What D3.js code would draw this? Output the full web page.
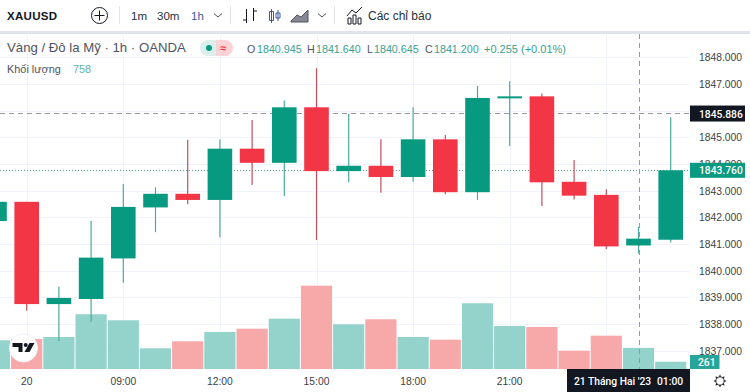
<!DOCTYPE html>
<html>
<head>
<meta charset="utf-8">
<script src="https://cdn.jsdelivr.net/npm/d3@7"></script>
<style>
  html, body { margin: 0; padding: 0; background: #fff; }
  svg { display: block; font-family: "Liberation Sans", Arial, sans-serif; }
</style>
</head>
<body>
<svg id="chart" width="750" height="392"></svg>
<script>
// one entry per hourly candle, first one is cut off by the left edge
const bars = [-1,0,1,2,3,4,5,6,7,8,9,10,11,12,13,14,15,16,17,18,19,20];
const opens  = [1841.86,1842.58,1838.75,1838.94,1840.46,1842.37,1842.88,1842.65,1844.57,1844.04,1846.12,1843.73,1843.93,1843.51,1844.92,1842.94,1846.46,1846.53,1843.33,1842.84,1840.945,1841.16];
const closes = [1842.58,1838.75,1838.98,1840.49,1842.39,1842.88,1842.65,1844.57,1844.04,1846.12,1843.73,1843.93,1843.51,1844.92,1842.94,1846.47,1846.53,1843.31,1842.81,1840.91,1841.2,1843.76];
const highs  = [1842.58,1842.58,1839.4,1841.87,1843.25,1843.12,1844.9,1844.92,1845.64,1846.37,1847.58,1845.87,1844.92,1846.12,1845.08,1846.92,1847.1,1846.64,1844.15,1843.05,1841.64,1845.75];
const lows   = [1841.86,1838.5,1837.37,1838.09,1839.55,1841.44,1842.49,1841.25,1843.21,1842.8,1841.15,1843.31,1842.92,1843.33,1842.86,1842.65,1844.67,1842.42,1842.67,1840.81,1840.645,1841.06];
const volumes = [1030,1077,1149,1964,1748,743,994,1328,1447,1806,2990,1605,1784,1149,1052,2359,1544,1508,657,1195,758,261];

const priceTicks = [1837,1838,1839,1840,1841,1842,1843,1844,1845,1846,1847,1848];
const timeTicks = [{bar:0,label:"20"},{bar:3,label:"09:00"},{bar:6,label:"12:00"},{bar:9,label:"15:00"},{bar:12,label:"18:00"},{bar:15,label:"21:00"}];
const extraGridBars = [18];
const hiddenPriceLabels = [1846];

const crossBar = 19;
const crossPrice = 1845.886;
const lastPrice = 1843.76;

const UP = "#089981", DOWN = "#f23645";
const UP_VOL = "#93d3cc", DOWN_VOL = "#f7a8a8";
const TEXT = "#131722";

const svg = d3.select("#chart");
const paneRight = 690;

const x = d3.scaleLinear().domain([0,20]).range([26.7,670.7]);
const y = d3.scaleLinear().domain([1841,1848]).range([244,57.1]);
const yVol = d3.scaleLinear().domain([0,3000]).range([369,285.4]);

const data = bars.map((b,i) => ({
  bar: b, open: opens[i], close: closes[i], high: highs[i], low: lows[i], volume: volumes[i],
  up: closes[i] >= opens[i]
}));

// grid
const grid = svg.append("g").attr("stroke","#f0f3fa").attr("stroke-width",1);
grid.selectAll("line.h")
  .data(priceTicks)
  .join("line")
  .attr("class","h")
  .attr("x1",0)
  .attr("x2",paneRight)
  .attr("y1",(d) => { return Math.round(y(d)) + 0.5 })
  .attr("y2",(d) => { return Math.round(y(d)) + 0.5 });
grid.selectAll("line.v")
  .data(timeTicks.map((t) => { return t.bar }).concat(extraGridBars))
  .join("line")
  .attr("class","v")
  .attr("x1",(d) => { return Math.round(x(d)) + 0.5 })
  .attr("x2",(d) => { return Math.round(x(d)) + 0.5 })
  .attr("y1",35)
  .attr("y2",369);

// volume
svg.append("g").selectAll("rect")
  .data(data)
  .join("rect")
  .attr("x",(d) => { return x(d.bar) - 15.6 })
  .attr("width",31.2)
  .attr("y",(d) => { return yVol(d.volume) })
  .attr("height",(d) => { return yVol(0) - yVol(d.volume) })
  .attr("fill",(d) => { return d.up ? UP_VOL : DOWN_VOL });

// last price + crosshair lines
svg.append("line")
  .attr("x1",0).attr("x2",paneRight)
  .attr("y1",Math.floor(y(lastPrice)) + 0.5).attr("y2",Math.floor(y(lastPrice)) + 0.5)
  .attr("stroke","#4f9c90").attr("stroke-dasharray","1 2");
svg.append("line")
  .attr("x1",0).attr("x2",paneRight)
  .attr("y1",Math.floor(y(crossPrice)) + 0.5).attr("y2",Math.floor(y(crossPrice)) + 0.5)
  .attr("stroke","#9598a1").attr("stroke-dasharray","5 4");
svg.append("line")
  .attr("x1",Math.round(x(crossBar)) + 0.5).attr("x2",Math.round(x(crossBar)) + 0.5)
  .attr("y1",34).attr("y2",369)
  .attr("stroke","#9598a1").attr("stroke-dasharray","5 4");

// candles
const candles = svg.append("g").selectAll("g")
  .data(data)
  .join("g");
candles.append("line")
  .attr("x1",(d) => { return x(d.bar) })
  .attr("x2",(d) => { return x(d.bar) })
  .attr("y1",(d) => { return y(d.high) })
  .attr("y2",(d) => { return y(d.low) })
  .attr("stroke",(d) => { return d.up ? "#4ea99a" : "#c0505f" })
  .attr("stroke-width",1.2);
candles.append("rect")
  .attr("x",(d) => { return x(d.bar) - 12.3 })
  .attr("width",24.6)
  .attr("y",(d) => { return y(Math.max(d.open,d.close)) })
  .attr("height",(d) => { return Math.max(2,Math.abs(y(d.open) - y(d.close))) })
  .attr("fill",(d) => { return d.up ? UP : DOWN });

// price scale labels
svg.append("g").selectAll("text")
  .data(priceTicks.filter((p) => { return hiddenPriceLabels.indexOf(p) < 0 }))
  .join("text")
  .attr("x",699)
  .attr("y",(d) => { return y(d) + 4 })
  .attr("font-size",10.3)
  .attr("fill",TEXT)
  .attr("opacity",0.85)
  .text((d) => { return d3.format(".3f")(d) });

// time labels
svg.append("g").selectAll("text")
  .data(timeTicks)
  .join("text")
  .attr("x",(d) => { return x(d.bar) })
  .attr("y",385)
  .attr("text-anchor","middle")
  .attr("font-size",10.3)
  .attr("fill",TEXT)
  .attr("opacity",0.85)
  .text((d) => { return d.label });

// price tags on the scale
function priceTag(value,label,fill,h) {
  const cy = y(value);
  svg.append("rect").attr("x",690).attr("y",cy - h / 2).attr("width",55).attr("height",h).attr("fill",fill);
  svg.append("text").attr("x",699).attr("y",cy + 4).attr("font-size",10.3).attr("font-family","Roboto").attr("font-weight",500).attr("fill","#fff").text(label);
}
priceTag(crossPrice,d3.format(".3f")(crossPrice),"#131722",16);
priceTag(lastPrice,d3.format(".3f")(lastPrice),UP,15);

const volumeTag = volumes[volumes.length - 1];
svg.append("rect").attr("x",690).attr("y",355).attr("width",29.5).attr("height",14).attr("fill","#26a69a");
svg.append("text").attr("x",698).attr("y",366).attr("font-size",10.3).attr("font-family","Roboto").attr("font-weight",500).attr("fill","#fff").text(volumeTag);

// crosshair date tag
svg.append("rect").attr("x",567).attr("y",369).attr("width",123).attr("height",23).attr("fill","#131722");
svg.append("text").attr("x",574).attr("y",385).attr("font-size",10.3).attr("font-family","Roboto").attr("font-weight",500).attr("fill","#fff").text("21 Tháng Hai '23");
svg.append("text").attr("x",657).attr("y",385).attr("font-size",10.3).attr("font-family","Roboto").attr("font-weight",500).attr("fill","#fff").text("01:00");

// tradingview logo
const logo = svg.append("g").attr("transform","translate(23.5,348)");
logo.append("circle").attr("r",14).attr("fill","#fff").attr("stroke","#f0f3fa");
logo.append("path").attr("fill","#131722").attr("d","M-11,-5H-1V4H-5V-1H-11Z");
logo.append("circle").attr("cx",2.2).attr("cy",-3).attr("r",2).attr("fill","#131722");
logo.append("path").attr("fill","#131722").attr("d","M6,-5H11L6,4H1Z");

// settings gear
const gear = svg.append("g").attr("transform","translate(720,381)").attr("fill","none").attr("stroke",TEXT);
gear.append("circle").attr("r",4.2);
d3.range(0,360,45).forEach((a) => {
  gear.append("line").attr("x1",4.2).attr("x2",6.2).attr("transform","rotate(" + a + ")");
});

// toolbar
svg.append("rect").attr("x",0).attr("y",31).attr("width",750).attr("height",3).attr("fill","#e0e3eb");
[119.5,230.5,334.5].forEach((sepX) => {
  svg.append("line").attr("x1",sepX).attr("x2",sepX).attr("y1",6).attr("y2",24).attr("stroke","#e0e3eb");
});
function label(px,py,size,fill,str,weight) {
  return svg.append("text").attr("x",px).attr("y",py).attr("font-size",size).attr("fill",fill)
    .attr("font-weight",weight || "normal").text(str);
}
label(7,20,11.5,TEXT,"XAUUSD","bold").attr("letter-spacing",0.3);
label(131,20,11.5,"#2a2e39","1m");
label(157,20,11.5,"#2a2e39","30m");
label(191,20,11.5,"#3a5a9c","1h");
label(368,20,12,"#2a2e39","Các chỉ báo");

const icons = svg.append("g").attr("fill","none").attr("stroke",TEXT).attr("stroke-width",1);
icons.append("circle").attr("cx",99.5).attr("cy",15.5).attr("r",8);
icons.append("path").attr("d","M99.5,10.5V20.5M94.5,15.5H104.5");
icons.append("path").attr("d","M214,13.5L218,17L222,13.5M318,13.5L322,17L326,13.5").attr("stroke","#50535e");
icons.append("path").attr("d","M246.5,9V23M243,20H246.5M253.5,8V21M253.5,11H257");
icons.append("path").attr("stroke","#3a5a9c").attr("d","M271.5,9V23M269.5,11.5H273.5V20.5H269.5ZM278,10V21M276,13H280V18H276Z");
icons.append("path").attr("fill","#868993").attr("stroke","#50535e").attr("d","M291,21L297,15L301,17L308,10V22H291Z");
icons.append("path").attr("d","M347,16L352,10L356,13L362,7M348,18H351V24H348ZM353,15H356V24H353ZM358,18H361V24H358Z");

// legend
label(7,52,13.2,"#50535e","Vàng / Đô la Mỹ · 1h · OANDA");
svg.append("path").attr("fill","#d9f0ec").attr("d","M216,40H208A8,8 0 0 0 208,56H216Z");
svg.append("path").attr("fill","#fbd3d6").attr("d","M216,40H225A8,8 0 0 1 225,56H216Z");
svg.append("circle").attr("cx",209).attr("cy",48).attr("r",3).attr("fill",UP);
label(220,52,11,DOWN,"≈","bold");

const ohlc = [
  {key:"O",keyX:247,valX:257,val:"1840.945"},
  {key:"H",keyX:307,valX:316,val:"1841.640"},
  {key:"L",keyX:367,valX:374,val:"1840.645"},
  {key:"C",keyX:425,valX:434,val:"1841.200"}
];
ohlc.forEach((o) => {
  label(o.keyX,53,10.7,"#50535e",o.key);
  label(o.valX,53,10.7,"#3aa08f",o.val);
});
label(484,53,11,"#3aa08f","+0.255 (+0.01%)");
label(7,73,10.9,"#50535e","Khối lượng");
label(73,73,10.9,"#5fb3a6",d3.format("d")(volumes[bars.indexOf(crossBar)]));
</script>
</body>
</html>
